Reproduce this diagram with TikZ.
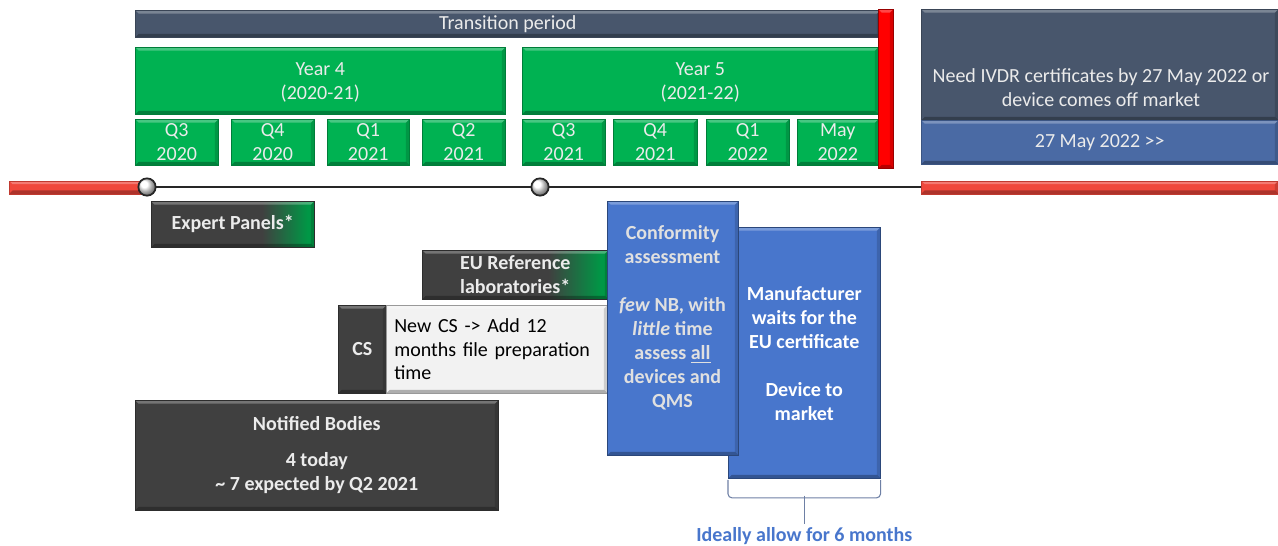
\documentclass[tikz,border=0pt]{standalone}
\usepackage{fontspec}
\setmainfont{Carlito}
\usepackage{tikz}
\usetikzlibrary{calc}

\definecolor{slate}{RGB}{72,86,108}
\definecolor{bandblue}{RGB}{74,106,164}
\definecolor{qgreen}{RGB}{0,178,82}
\definecolor{ngrey}{RGB}{64,64,64}
\definecolor{cblue}{RGB}{72,118,204}
\definecolor{railred}{RGB}{240,72,60}
\definecolor{posthred}{RGB}{255,0,0}
\definecolor{softwhite}{RGB}{235,235,235}
\definecolor{bracecol}{RGB}{110,128,165}

% grey panel fading into green at its right end
\pgfdeclarehorizontalshading{panelfade}{100bp}{color(0bp)=(ngrey); color(59bp)=(ngrey); color(73bp)=(qgreen!85!black); color(100bp)=(qgreen!85!black)}

\tikzset{
  sz/.style 2 args={minimum width=#1*0.75pt, minimum height=#2*0.75pt},
  bevel/.style={path picture={
    \fill[white,opacity=.28] (path picture bounding box.north west) -- (path picture bounding box.north east)
      -- ++(-2.5pt,-2.5pt) -- ([shift={(2.5pt,-2.5pt)}]path picture bounding box.north west) -- cycle;
    \fill[black,opacity=.28] (path picture bounding box.south west) -- (path picture bounding box.south east)
      -- ++(-2.5pt,2.5pt) -- ([shift={(2.5pt,2.5pt)}]path picture bounding box.south west) -- cycle;
    \fill[black,opacity=.15] (path picture bounding box.north east) -- (path picture bounding box.south east)
      -- ++(-2.5pt,2.5pt) -- ([shift={(-2.5pt,-2.5pt)}]path picture bounding box.north east) -- cycle;
  }},
  blk/.style={anchor=north west, inner sep=0pt, align=center, bevel,
    font=\fontsize{15}{18}\selectfont},
  slatebar/.style={blk, fill=slate, draw=slate!80!black, text=softwhite},
  bandbar/.style={blk, fill=bandblue, draw=bandblue!80!black, text=softwhite},
  greenbox/.style={blk, fill=qgreen, draw=qgreen!70!black, text=softwhite, text depth=0pt},
  redpost/.style={blk, fill=posthred, draw=red!60!black},
  redrail/.style={blk, fill=railred, draw=railred!80!black},
  darkbox/.style={blk, fill=ngrey, draw=ngrey!70!black, text=softwhite, font=\fontsize{15}{18}\selectfont\bfseries},
  panel/.style={darkbox, shading=panelfade},
  notebox/.style={blk, fill=black!5, draw=black!40, bevel, text=black, align=left},
  bluebox/.style={blk, fill=cblue, draw=cblue!60!black},
  boxtext/.style={align=center, inner sep=0pt, font=\fontsize{15}{18}\selectfont\bfseries},
  knot/.style={circle, draw=black!85, line width=1.3pt, ball color=white, minimum size=13pt, inner sep=0pt},
  timeline/.style={draw=black!85, line width=1.6pt},
}

\begin{document}
\begin{tikzpicture}[x=0.75pt,y=-0.75pt]
\useasboundingbox (0,0) rectangle (1278,546);

% transition period and years
\node[slatebar, sz={745}{27}] (transition) at (135,10) {Transition period};
\node[greenbox, sz={370}{67}] (year4) at (135,47) {Year 4\\(2020-21)};
\node[greenbox, sz={356}{67}] (year5) at (522,47) {Year 5\\(2021-22)};
\foreach \qx/\qw/\qa/\qb [count=\i] in {135/83/Q3/2020, 231/83/Q4/2020, 327/82/Q1/2021, 422/83/Q2/2021,
    522/83/Q3/2021, 613/84/Q4/2021, 706/83/Q1/2022, 797/81/May/2022}
  \node[greenbox, sz={\qw}{46}] (q\i) at (\qx,119) {\qa\\\qb};
\node[redpost, sz={15}{159}] (deadline) at (878,9) {};

% after the deadline
\node[slatebar, sz={357}{111}] (need) at (921,9) {};
\node[boxtext, text=softwhite, font=\fontsize{15}{18}\selectfont] (needtext) at (1101,88)
  {Need IVDR certificates by 27 May 2022 or\\device comes off market};
\node[bandbar, sz={357}{44}] (mayband) at (921,120) {27 May 2022 >{}>};

% time line
\node[redrail, sz={138}{13}] (railL) at (9,180.5) {};
\node[redrail, sz={357}{13}] (railR) at (921,180.5) {};
\coordinate (k1pos) at (147,187);
\coordinate (k2pos) at (540,187);
\draw[timeline] (k1pos) -- (k2pos) -- (k2pos -| railR.west);
\node[knot] (k1) at (k1pos) {};
\node[knot] (k2) at (k2pos) {};

% actors
\node[panel, sz={163}{46}] (experts) at (151,201) {Expert Panels*};
\node[panel, sz={186}{49}] (eurl) at (422,250) {EU Reference\\laboratories*};
\node[darkbox, sz={48}{88}] (cs) at (338,305) {CS};
\node[notebox, sz={220}{88}, text width=205*0.75pt, inner xsep=8*0.75pt,
  font=\fontsize{15}{17.6}\selectfont] (csnote) at (386,305) {New CS -> Add 12\\months file preparation\\time};
\node[darkbox, sz={363}{110}] (nb) at (135,400) {Notified Bodies\\[9pt]4 today\\\textasciitilde{} 7 expected by Q2 2021};

% conformity assessment and certificate
\node[bluebox, sz={152}{251}] (maker) at (728,227) {};
\node[boxtext, text=white] (makertext) at ([yshift=-1pt]maker.center)
  {Manufacturer\\waits for the\\EU certificate\\[18pt]Device to\\market};
\node[bluebox, sz={131}{254}] (conf) at (607,201) {};
\node[boxtext, text=black!12] (conftext) at (672.5,318)
  {Conformity\\assessment\\[18pt]\textit{few} NB, with\\\textit{little} time\\assess \underline{all}\\devices and\\QMS};

% six months brace
\draw[bracecol, line width=0.8pt, rounded corners=3pt]
  ([yshift=-1pt]maker.south west) -- ++(0,18) -| ([yshift=-1pt]maker.south east);
\draw[bracecol, line width=0.8pt, rounded corners=3pt]
  ($(maker.south west)!0.5!(maker.south east)+(0,17)$) -- ++(0,28) coordinate (bracetip);
\node[boxtext, text=cblue, anchor=north] (sixmonths) at ([yshift=-3pt]bracetip) {Ideally allow for 6 months};
\end{tikzpicture}
\end{document}
